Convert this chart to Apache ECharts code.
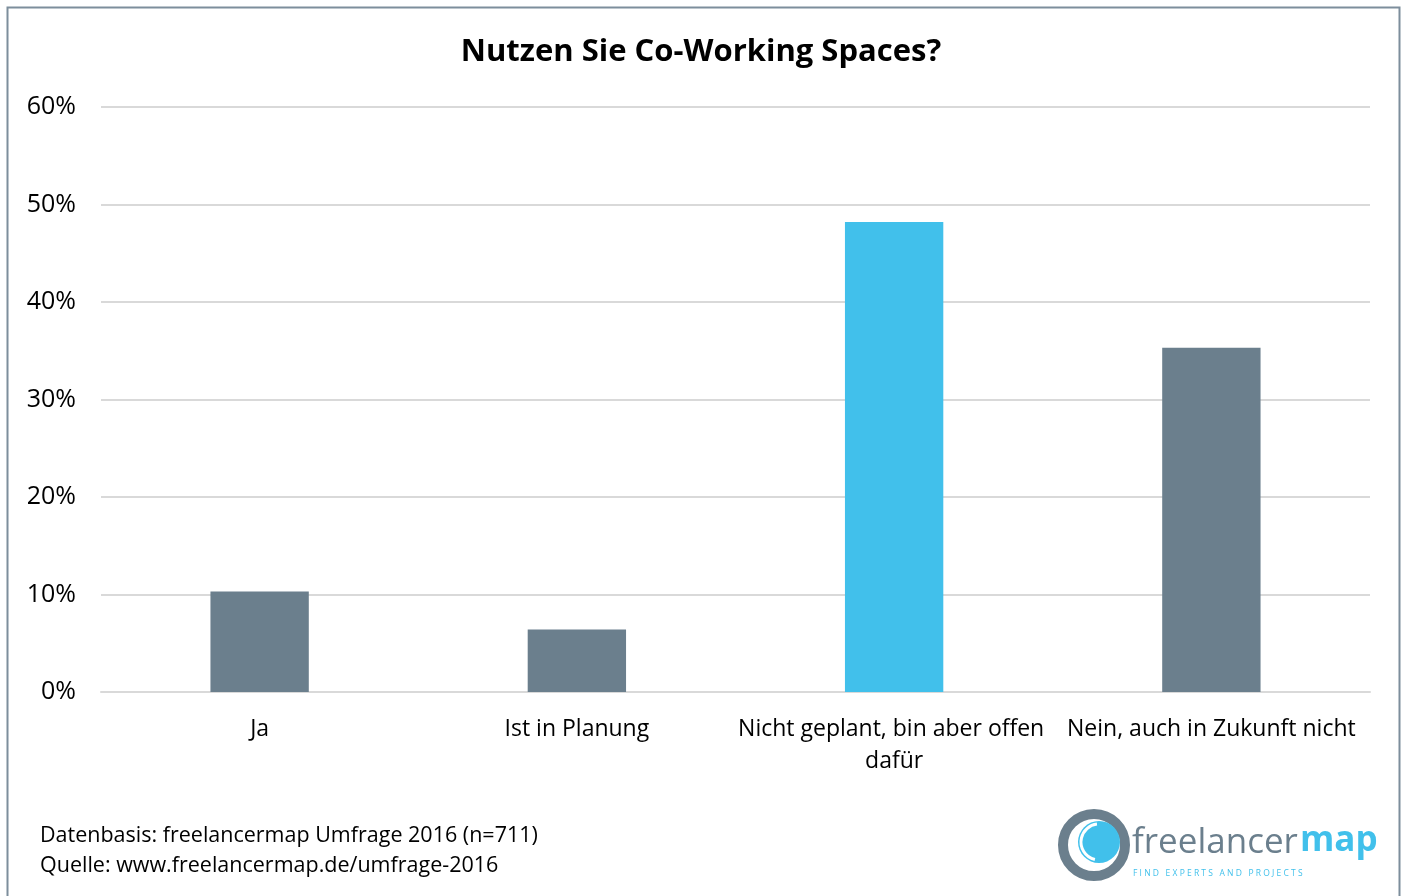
<!DOCTYPE html>
<html><head><meta charset="utf-8">
<script src="https://cdn.jsdelivr.net/npm/echarts@6/dist/echarts.min.js"></script>
<style>html,body{margin:0;padding:0;background:#fff}#c{width:1402px;height:896px}</style>
</head><body><div id="c"></div>
<script>
const categories = ['Ja', 'Ist in Planung', 'Nicht geplant, bin aber offen dafür', 'Nein, auch in Zukunft nicht'];
const values = [10.3, 6.4, 48.2, 35.3];
const barColors = ['#6b7f8d', '#6b7f8d', '#41c0eb', '#6b7f8d'];
const yTicks = [0, 10, 20, 30, 40, 50, 60];
const titleText = 'Nutzen Sie Co-Working Spaces?';
const footerLines = ['Datenbasis: freelancermap Umfrage 2016 (n=711)', 'Quelle: www.freelancermap.de/umfrage-2016'];

const font = '"Open Sans", "Noto Sans", sans-serif';
const chart = echarts.init(document.getElementById('c'));
chart.setOption({
  animation: false,
  backgroundColor: '#fff',
  title: {
    text: titleText, left: 'center', top: 32,
    textStyle: { fontFamily: font, fontSize: 31, fontWeight: 'bold', color: '#000' }
  },
  grid: { left: 101, right: 32, top: 107, bottom: 204 },
  xAxis: {
    type: 'category', data: categories,
    axisLine: { show: true, lineStyle: { color: '#d9d9d9', width: 2 } },
    axisTick: { show: false },
    axisLabel: { fontFamily: font, fontSize: 23, color: '#000', margin: 21, lineHeight: 32,
      width: 316, overflow: 'break', interval: 0 }
  },
  yAxis: {
    type: 'value', min: yTicks[0], max: yTicks[yTicks.length - 1], interval: 10,
    axisLine: { show: false }, axisTick: { show: false },
    splitLine: { lineStyle: { color: '#d9d9d9', width: 2 } },
    axisLabel: { fontFamily: font, fontSize: 25, color: '#000', margin: 25, formatter: '{value}%' }
  },
  series: [{
    type: 'bar', barWidth: '31%',
    data: values.map((v, i) => ({ value: v, itemStyle: { color: barColors[i] } }))
  }],
  graphic: [
    { type: 'rect', shape: { x: 7.5, y: 7.5, width: 1392, height: 900 }, style: { fill: 'none', stroke: '#7d8e9c', lineWidth: 2 }, silent: true },
    { type: 'text', left: 40, top: 825, style: { text: footerLines[0], font: '21.5px ' + font, fill: '#000' } },
    { type: 'text', left: 40, top: 855, style: { text: footerLines[1], font: '21.5px ' + font, fill: '#000' } },
    // logo
    { type: 'circle', shape: { cx: 1094, cy: 845, r: 31 }, style: { fill: 'none', stroke: '#6b7f8d', lineWidth: 10 } },
    { type: 'circle', shape: { cx: 1099, cy: 842, r: 21 }, style: { fill: '#41c0eb' } },
    { type: 'arc', shape: { cx: 1099, cy: 842, r: 18, startAngle: 1.8, endAngle: 4.6 }, style: { fill: 'none', stroke: '#fff', lineWidth: 3 } },
    { type: 'text', left: 1132, top: 826, style: { text: 'freelancer', font: '35px "Open Sans", sans-serif', fill: '#6b7f8d' } },
    { type: 'text', left: 1300, top: 824, style: { text: 'map', font: 'bold 35px "Open Sans", sans-serif', fill: '#41c0eb' } },
    { type: 'text', left: 1133, top: 869, style: { text: 'F I N D   E X P E R T S   A N D   P R O J E C T S', font: '8.5px "Open Sans", sans-serif', fill: '#41c0eb' } }
  ]
});
</script></body></html>
